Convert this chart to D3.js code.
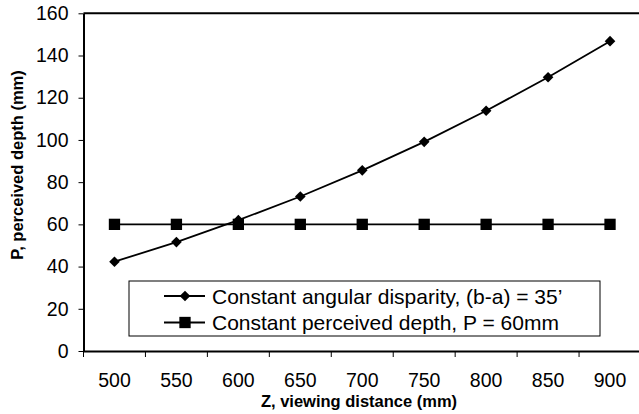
<!DOCTYPE html>
<html lang="en">
<head>
<meta charset="UTF-8">
<title>Perceived depth vs viewing distance</title>
<style>
body { margin: 0; background: white; }
svg { display: block; font-family: "Liberation Sans", Arial, sans-serif; }
.axis path, .axis line { stroke: black; }
.axis text { fill: black; font-size: 19.5px; }
</style>
</head>
<body>
<svg width="639" height="414"></svg>
<script src="https://d3js.org/d3.v7.min.js"></script>
<script>
// data
const distances = ["500", "550", "600", "650", "700", "750", "800", "850", "900"];
const angularSeries = [42.3, 51.6, 62.0, 73.2, 85.6, 99.1, 113.8, 129.7, 146.8];
const depthSeries = [60, 60, 60, 60, 60, 60, 60, 60, 60];
const yTicks = [0, 20, 40, 60, 80, 100, 120, 140, 160];
const legendLabels = ["Constant angular disparity, (b-a) = 35\u2019", "Constant perceived depth, P = 60mm"];

const svg = d3.select("svg");
const plotLeft = 83.5, plotRight = 641, plotTop = 13.3, plotBottom = 351;

const x = d3.scaleBand().domain(distances).range([plotLeft, plotRight]).padding(0);
const y = d3.scaleLinear().domain([0, 160]).range([plotBottom, plotTop]);
const cx = d => x(d) + x.bandwidth() / 2;

// frame top line
svg.append("line")
    .attr("x1", plotLeft).attr("x2", plotRight)
    .attr("y1", plotTop).attr("y2", plotTop)
    .attr("stroke", "black").attr("stroke-width", 2);

// y axis
const yAxis = svg.append("g")
    .attr("class", "axis")
    .attr("transform", `translate(${plotLeft},0)`)
    .call(d3.axisLeft(y).tickValues(yTicks).tickSize(5).tickSizeOuter(0).tickPadding(10));
yAxis.select(".domain").attr("stroke-width", 2);

// x axis (labels centred in bands, ticks between categories)
const xAxis = svg.append("g")
    .attr("class", "axis")
    .attr("transform", `translate(0,${plotBottom})`)
    .call(d3.axisBottom(x).tickSize(0).tickSizeOuter(0).tickPadding(22));
xAxis.select(".domain").attr("stroke-width", 2);
const bounds = distances.map(d => x(d)).concat([x(distances[distances.length - 1]) + x.bandwidth()]);
xAxis.selectAll(".bound")
    .data(bounds)
    .enter().append("line")
    .attr("class", "bound")
    .attr("x1", d => d).attr("x2", d => d)
    .attr("y1", 0).attr("y2", 6)
    .attr("stroke", "black");

// axis titles
svg.append("text")
    .attr("x", 359).attr("y", 407)
    .attr("text-anchor", "middle")
    .attr("font-weight", "bold").attr("font-size", "16.5px")
    .text("Z, viewing distance (mm)");
svg.append("text")
    .attr("transform", "rotate(-90)")
    .attr("x", -165).attr("y", 23)
    .attr("text-anchor", "middle")
    .attr("font-weight", "bold").attr("font-size", "16.5px")
    .text("P, perceived depth (mm)");

const line = d3.line().x(d => cx(d[0])).y(d => y(d[1]));
const diamond = d3.symbol().type(d3.symbolDiamond2).size(72);
const square = d3.symbol().type(d3.symbolSquare).size(128);

function drawSeries(values, sym) {
    const pts = distances.map((d, i) => [d, values[i]]);
    svg.append("path")
        .datum(pts)
        .attr("d", line)
        .attr("fill", "none")
        .attr("stroke", "black")
        .attr("stroke-width", 1.8);
    svg.append("g").selectAll("path")
        .data(pts)
        .enter().append("path")
        .attr("d", sym)
        .attr("transform", d => `translate(${cx(d[0])},${y(d[1])})`)
        .attr("fill", "black");
}

drawSeries(depthSeries, square);
drawSeries(angularSeries, diamond);

// legend
const legend = svg.append("g").attr("transform", "translate(129,281)");
legend.append("rect")
    .attr("x", 0).attr("y", 0)
    .attr("width", 471).attr("height", 55)
    .attr("fill", "white").attr("stroke", "black").attr("stroke-width", 1);
const syms = [diamond, square];
const rows = legend.selectAll(".row")
    .data(legendLabels)
    .enter().append("g")
    .attr("class", "row")
    .attr("transform", (d, i) => `translate(0,${15 + i * 26.5})`);
rows.append("line")
    .attr("x1", 35).attr("x2", 76)
    .attr("stroke", "black").attr("stroke-width", 1.8);
rows.append("path")
    .attr("d", (d, i) => syms[i]())
    .attr("transform", "translate(56,0)")
    .attr("fill", "black");
rows.append("text")
    .attr("x", 83).attr("dy", "0.36em")
    .attr("font-size", "21px")
    .text(d => d);
</script>
</body>
</html>
